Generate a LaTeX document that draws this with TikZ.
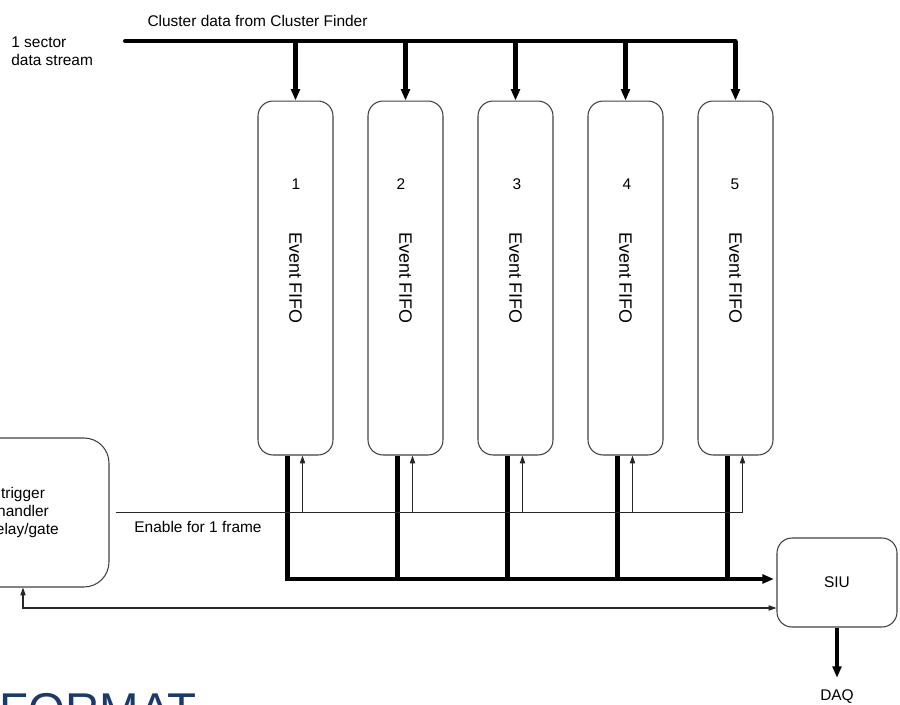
\documentclass[tikz,border=0pt]{standalone}
\usepackage{fontspec}
\setmainfont{Liberation Sans}
\usetikzlibrary{arrows.meta,positioning,calc}
\definecolor{fmtblue}{HTML}{1B3A6B}
\definecolor{boxgrey}{HTML}{404040}
\tikzset{
  >={Triangle[length=4.5pt,width=3pt]},
  % blokker
  fifo/.style={draw=boxgrey,line width=0.6pt,rounded corners=0.3cm,inner sep=0pt,
               minimum width=1.5cm,minimum height=7.08cm,font=\fontsize{10.2}{12}\selectfont},
  blk/.style={draw=boxgrey,line width=0.6pt,inner sep=0pt,align=center,
              font=\fontsize{8.8}{10.3}\selectfont},
  lbl/.style={font=\fontsize{8.8}{10.3}\selectfont,inner sep=0pt},
  fmt/.style={font=\fontsize{27}{30}\selectfont,text=fmtblue,inner sep=0pt},
  % linjer
  dat/.style={draw=black,line width=2.3pt},
  datarr/.style={dat,-{Triangle[length=6.5pt,width=5pt]}},
  sig/.style={draw=black!85,line width=0.6pt},
  sigarr/.style={sig,->},
}

\begin{document}
\begin{tikzpicture}[x=0.02cm,y=-0.02cm]
\useasboundingbox (0,0) rectangle (900,704);
  % fifoer
  \node[fifo] (f1) at (295.5,278) {\rotatebox{-90}{Event FIFO}};
  \node[fifo] (f2) at (405.5,278) {\rotatebox{-90}{Event FIFO}};
  \node[fifo] (f3) at (515.5,278) {\rotatebox{-90}{Event FIFO}};
  \node[fifo] (f4) at (625.5,278) {\rotatebox{-90}{Event FIFO}};
  \node[fifo] (f5) at (735.5,278) {\rotatebox{-90}{Event FIFO}};
  \node[lbl] (n1) at (296,184) {1};
  \node[lbl] (n2) at (401,184) {2};
  \node[lbl] (n3) at (517,184) {3};
  \node[lbl] (n4) at (627,184) {4};
  \node[lbl] (n5) at (735,184) {5};
  \node[blk,rounded corners=0.5cm,minimum width=3.44cm,minimum height=2.98cm] (trig)
    at (23,512.5) {trigger\\handler\\delay/gate};
  \node[blk,rounded corners=0.3cm,minimum width=2.4cm,minimum height=1.78cm] (siu)
    at (837,582.5) {SIU};
  \node[lbl] (daq) at (837,697) {DAQ};
  \node[lbl] (title) at (257.5,21) {Cluster data from Cluster Finder};
  \node[lbl,align=left,anchor=west] (src) at (11,51) {1 sector\\data stream};
  \node[lbl] (en) at (198,527) {Enable for 1 frame};
  \node[fmt,anchor=base west] (fmtxt) at (-1,726) {FORMAT};
  % inn
  \coordinate (busL) at (125,41);
  \draw[dat,line cap=round] (busL) -- (f5.north |- busL);
  \draw[datarr] (f1.north |- busL) -- (f1.north);
  \draw[datarr] (f2.north |- busL) -- (f2.north);
  \draw[datarr] (f3.north |- busL) -- (f3.north);
  \draw[datarr] (f4.north |- busL) -- (f4.north);
  \draw[datarr] (f5.north |- busL) -- (f5.north);
  % ut
  \coordinate (o1) at ([xshift=-0.16cm]f1.south);
  \coordinate (o2) at ([xshift=-0.16cm]f2.south);
  \coordinate (o3) at ([xshift=-0.16cm]f3.south);
  \coordinate (o4) at ([xshift=-0.16cm]f4.south);
  \coordinate (o5) at ([xshift=-0.16cm]f5.south);
  \coordinate (obus) at (0,579);
  \draw[datarr,shorten >=1.5pt] (o1) |- (siu.west |- obus);
  \draw[dat] (o2) -- (o2 |- obus);
  \draw[dat] (o3) -- (o3 |- obus);
  \draw[dat] (o4) -- (o4 |- obus);
  \draw[dat] (o5) -- (o5 |- obus);
  \draw[datarr] (siu.south) -- ([yshift=0.24cm]daq.north);
  % enable
  \coordinate (e1) at ([xshift=0.14cm]f1.south);
  \coordinate (e2) at ([xshift=0.14cm]f2.south);
  \coordinate (e3) at ([xshift=0.14cm]f3.south);
  \coordinate (e4) at ([xshift=0.14cm]f4.south);
  \coordinate (e5) at ([xshift=0.14cm]f5.south);
  \draw[sig] ([xshift=0.12cm]trig.east) -- (e5 |- trig.east);
  \draw[sigarr] (e1 |- trig.east) -- (e1);
  \draw[sigarr] (e2 |- trig.east) -- (e2);
  \draw[sigarr] (e3 |- trig.east) -- (e3);
  \draw[sigarr] (e4 |- trig.east) -- (e4);
  \draw[sigarr] (e5 |- trig.east) -- (e5);
  % tilbake
  \coordinate (fb) at (0,608);
  \draw[sig,<->] (trig.south) |- (siu.west |- fb);
\end{tikzpicture}
\end{document}
